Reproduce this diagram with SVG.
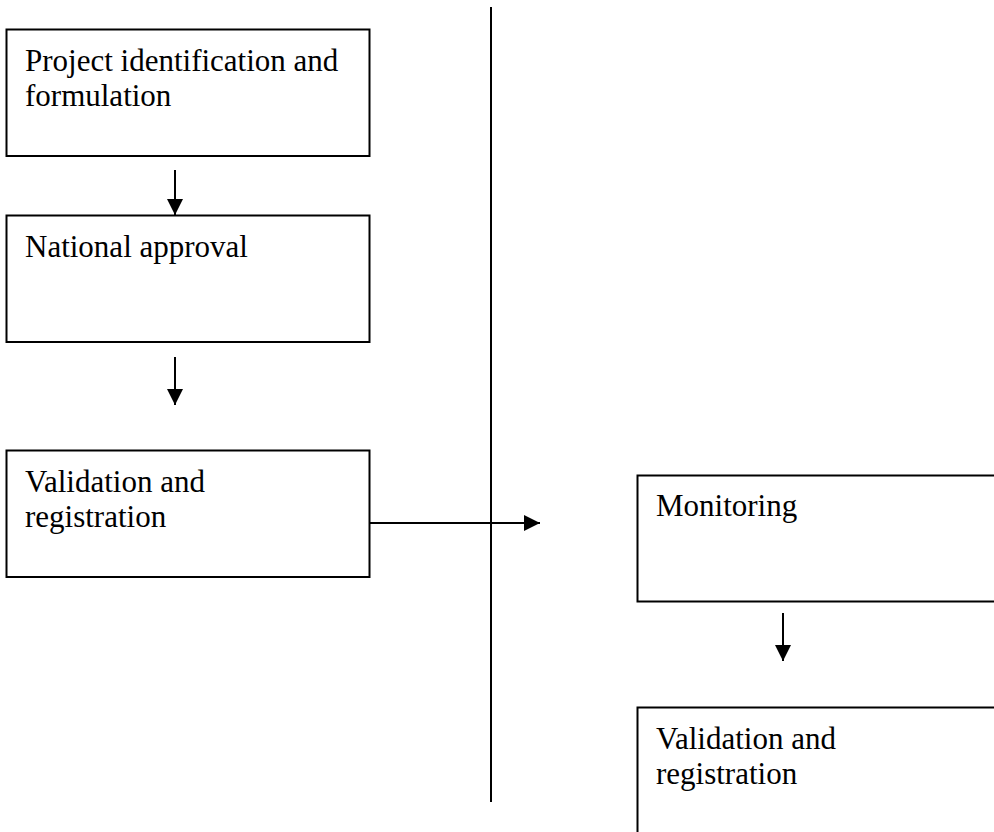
<svg xmlns="http://www.w3.org/2000/svg" width="994" height="832" viewBox="0 0 994 832">
<defs>
<marker id="ah" markerWidth="16" markerHeight="16" refX="16" refY="8" orient="auto" markerUnits="userSpaceOnUse" viewBox="0 0 16 16">
<path d="M0,0 L16,8 L0,16 z" fill="#000"/>
</marker>
<style>
.box{fill:#fff;stroke:#000;stroke-width:2}
.t{font-family:"Liberation Serif","Times New Roman",serif;font-size:31px;fill:#000}
.c{stroke:#000;stroke-width:2;fill:none}
</style>
</defs>
<rect width="994" height="832" fill="#fff"/>
<g id="connectors">
<line class="c" x1="491" y1="7" x2="491" y2="802"/>
<line class="c" x1="175" y1="170" x2="175" y2="215" marker-end="url(#ah)"/>
<line class="c" x1="175" y1="357" x2="175" y2="405" marker-end="url(#ah)"/>
<line class="c" x1="370" y1="523" x2="540" y2="523" marker-end="url(#ah)"/>
<line class="c" x1="783" y1="613" x2="783" y2="661" marker-end="url(#ah)"/>
</g>
<g id="n1"><rect class="box" x="6.5" y="29.5" width="363" height="126.5"/>
<text class="t" x="25" y="71">Project identification and</text><text class="t" x="25" y="106">formulation</text></g>
<g id="n2"><rect class="box" x="6.5" y="215.5" width="363" height="126.5"/>
<text class="t" x="25" y="257">National approval</text></g>
<g id="n3"><rect class="box" x="6.5" y="450.5" width="363" height="126.5"/>
<text class="t" x="25" y="492">Validation and</text><text class="t" x="25" y="527">registration</text></g>
<g id="n4"><rect class="box" x="637.5" y="475.5" width="400" height="126"/>
<text class="t" x="656" y="516">Monitoring</text></g>
<g id="n5"><rect class="box" x="637.5" y="707.5" width="400" height="200"/>
<text class="t" x="656" y="749">Validation and</text><text class="t" x="656" y="784">registration</text></g>
</svg>
